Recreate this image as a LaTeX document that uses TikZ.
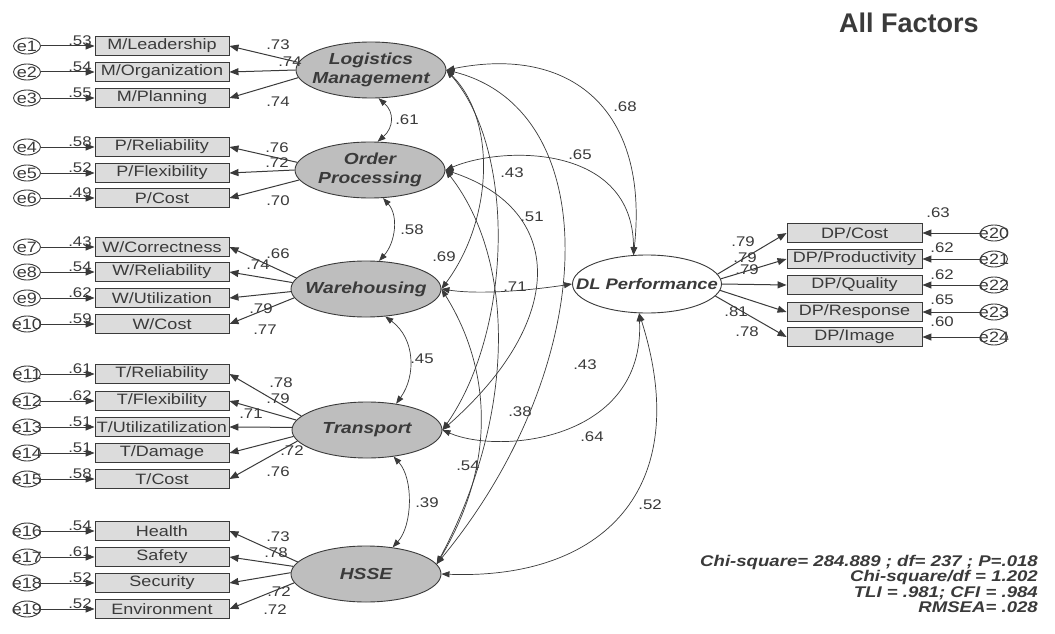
\documentclass[tikz,border=0pt]{standalone}
\usepackage{fontspec}
\setmainfont{Liberation Sans}[FakeStretch=1.2]
\newfontfamily\plainsans{Liberation Sans}
\usetikzlibrary{arrows.meta,shapes.geometric}

\definecolor{ink}{HTML}{3A3A3A}
\definecolor{boxfill}{HTML}{DCDCDC}
\definecolor{latfill}{HTML}{BEBEBE}

\tikzset{
  errc/.style={ellipse, draw=ink, fill=white, line width=0.9pt, minimum width=27pt, minimum height=16pt, inner sep=0pt},
  etxt/.style={text=ink, inner sep=0pt, font=\fontsize{15}{18}\selectfont},
  item/.style={rectangle, draw=ink, fill=boxfill, line width=0.9pt, minimum width=134pt, minimum height=19pt, inner sep=0pt, text=ink, font=\fontsize{15}{18}\selectfont},
  factor/.style={ellipse, draw=ink, fill=latfill, line width=0.9pt, minimum width=150pt, minimum height=56pt, inner sep=0pt},
  ftxt/.style={text=ink, align=center, inner sep=0pt, font=\fontsize{16}{19}\selectfont\bfseries\itshape},
  num/.style={text=ink, inner sep=0pt, font=\fontsize{14}{16}\selectfont},
  load/.style={draw=ink, line width=1pt, -{Triangle[length=9pt,width=7pt]}},
  cov/.style={draw=ink, line width=0.7pt, {Triangle[length=8pt,width=6pt]}-{Triangle[length=8pt,width=6pt]}},
  fit/.style={text=ink, anchor=base east, inner sep=0pt, font=\fontsize{15.5}{17}\selectfont\bfseries\itshape}
}

\begin{document}
\begin{tikzpicture}[x=1pt, y=-1pt]
    \path[use as bounding box, fill=white] (0,0) rectangle (1055,634);

    % latent factors
    \node[factor, label={[ftxt]center:{Logistics\\Management}}] (LM) at (371,70) {};
    \node[factor, label={[ftxt]center:{Order\\Processing}}] (OP) at (370,170) {};
    \node[factor, label={[ftxt]center:Warehousing}] (WH) at (366,289) {};
    \node[factor, label={[ftxt]center:Transport}] (TR) at (367,430) {};
    \node[factor, label={[ftxt]center:HSSE}] (HS) at (366,574) {};
    \node[factor, fill=white, minimum width=149pt, minimum height=58pt,
          label={[ftxt, font=\fontsize{15.3}{18}\selectfont\bfseries\itshape]center:DL Performance}] (DL) at (647,284) {};

    % left indicators
    \foreach \i/\txt/\y/\el/\fac/\ang/\ld/\lx/\ly in {
        1/{M/Leadership}/46/.53/LM/174/.73/278/45,
        2/{M/Organization}/72/.54/LM/180/.74/290/62,
        3/{M/Planning}/98/.55/LM/186/.74/278/102,
        4/{P/Reliability}/147/.58/OP/174/.76/277/148,
        5/{P/Flexibility}/173/.52/OP/180/.72/277/163,
        6/{P/Cost}/198/.49/OP/188/.70/278/201,
        7/{W/Correctness}/247/.43/WH/171/.66/278/254,
        8/{W/Reliability}/272/.54/WH/175/.74/258/265,
        9/{W/Utilization}/298/.62/WH/182/.79/261/309,
        10/{W/Cost}/324/.59/WH/187/.77/265/330,
        11/{T/Reliability}/374/.61/TR/168/.78/281/383,
        12/{T/Flexibility}/401/.62/TR/172/.79/278/399,
        13/{T/Utilizatilization}/427/.51/TR/178/.71/251/414,
        14/{T/Damage}/453/.51/TR/185/.72/292/451,
        15/{T/Cost}/479/.58/TR/189/.76/278/472,
        16/{Health}/531/.54/HS/170/.73/278/537,
        17/{Safety}/557/.61/HS/174/.78/276/553,
        18/{Security}/583/.52/HS/179/.72/279/592,
        19/{Environment}/609/.52/HS/187/.72/275/610}{
        \node[errc, label={[etxt]center:e\i}] (e\i) at (27,\y) {};
        \node[item] (ind\i) at (162,\y) {\txt};
        \draw[load] (e\i) -- (ind\i);
        \node[num] (er\i) at (80,\y-5) {\el};
        \draw[load] (\fac.\ang) -- (ind\i.east);
        \node[num] (ld\i) at (\lx,\ly) {\ld};
    }

    % right indicators
    \foreach \i/\txt/\y/\el/\rx/\ry/\ang/\ld/\lx/\ly in {
        20/{DP/Cost}/233/.63/938/213/8/.79/743/242,
        21/{DP/Productivity}/259/.62/942/248/4/.79/745/258,
        22/{DP/Quality}/285/.62/942/275/0/.79/747/270,
        23/{DP/Response}/312/.65/942/300/-5/.81/736/312,
        24/{DP/Image}/337/.60/942/322/-10/.78/747/332}{
        \node[errc, label={[etxt]center:e\i}] (e\i) at (994,\y) {};
        \node[item, minimum width=135pt] (ind\i) at (854.5,\y) {\txt};
        \draw[load] (e\i) -- (ind\i);
        \node[num] (er\i) at (\rx,\ry) {\el};
        \draw[load] (DL.\ang) -- (ind\i.west);
        \node[num] (ld\i) at (\lx,\ly) {\ld};
    }

    % covariances between neighbours
    \draw[cov] (LM.-75) .. controls +(16,14) and +(16,-14) .. (OP.75);
    \node[num] (c1) at (407,120) {.61};
    \draw[cov] (OP.-65) .. controls +(16,18) and +(16,-18) .. (WH.65);
    \node[num] (c2) at (412,230) {.58};
    \draw[cov] (WH.-55) .. controls +(30,22) and +(20,-28) .. (TR.42);
    \node[num] (c3) at (422,359) {.45};
    \draw[cov] (TR.-45) .. controls +(20,22) and +(20,-22) .. (HS.45);
    \node[num] (c4) at (427,503) {.39};

    % long covariances
    \draw[cov] (LM.east) .. controls +(50,50) and +(52,-70) .. (WH.east);
    \node[num] (c5) at (444,257) {.69};
    \draw[cov] (LM.east) .. controls +(70,80) and +(70,-100) .. (TR.east);
    \node[num] (c6) at (512,173) {.43};
    \draw[cov] (LM.east) .. controls +(160,40) and +(165,-200) .. (HS.8);
    \node[num] (c7) at (585,365) {.43};
    \draw[cov] (OP.east) .. controls +(120,40) and +(125,-110) .. (TR.east);
    \node[num] (c8) at (532,217) {.51};
    \draw[cov] (OP.east) .. controls +(70,90) and +(80,-150) .. (HS.8);
    \node[num] (c9) at (520,412) {.38};
    \draw[cov] (WH.east) .. controls +(50,80) and +(60,-100) .. (HS.8);
    \node[num] (c10) at (468,466) {.54};

    % covariances with DL Performance
    \draw[cov] (LM.east) .. controls +(124,-25) and +(16,-146) .. (DL.115);
    \node[num] (c11) at (625,107) {.68};
    \draw[cov] (OP.east) .. controls +(60,-25) and +(0,-110) .. (DL.115);
    \node[num] (c12) at (580,155) {.65};
    \draw[cov] (WH.east) .. controls +(40,6) and +(-40,6) .. (DL.west);
    \node[num] (c13) at (515,287) {.71};
    \draw[cov] (TR.east) .. controls +(58,25) and +(6,127) .. (DL.-105);
    \node[num] (c14) at (592,437) {.64};
    \draw[cov] (HS.east) .. controls +(160,6) and +(56,177) .. (DL.-105);
    \node[num] (c15) at (650,505) {.52};

    % title and fit
    \node[text=ink, font=\plainsans\fontsize{27}{32}\selectfont\bfseries] (title) at (909,23) {All Factors};
    \node[fit] (fit1) at (1038,566) {Chi-square= 284.889 ; df= 237 ; P=.018};
    \node[fit] (fit2) at (1038,581.5) {Chi-square/df = 1.202};
    \node[fit] (fit3) at (1038,597) {TLI = .981; CFI = .984};
    \node[fit] (fit4) at (1038,612.5) {RMSEA= .028};
\end{tikzpicture}
\end{document}
